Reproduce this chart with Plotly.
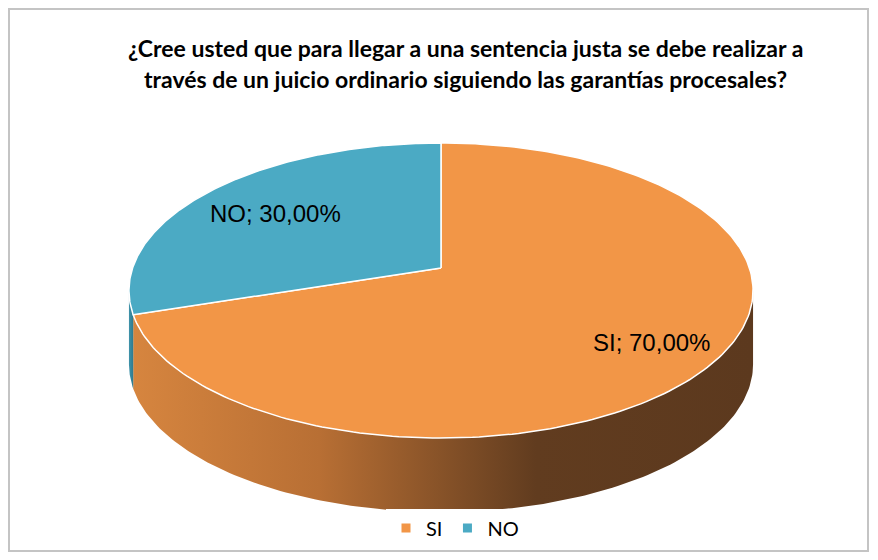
import numpy as np
import plotly.graph_objects as go

categories = ["SI", "NO"]
values = [70.0, 30.0]
colors = ["#F29647", "#4BAAC4"]
side_scales = [
    [[0, "#d6853f"], [0.3, "#b86f34"], [0.65, "#613c1f"], [1, "#5c391e"]],
    [[0, "#3f93aa"], [1, "#2f7a8e"]],
]
title_lines = [
    "¿Cree usted que para llegar a una sentencia justa se debe realizar a",
    "través de un juicio ordinario siguiendo las garantías procesales?",
]

# perspective geometry (pixels of the reference picture)
CX, CY = 441, 268          # projected pie centre
K = 0.1525                 # perspective strength
A, B = 308.4, 144.1        # horizontal / vertical scale
DEPTH = 74                 # side height
OFF = 8                    # page body margin offset

def proj(t_deg, dy=0.0):
    t = np.radians(t_deg)
    X, Z = np.cos(t), np.sin(t)
    w = 1 + K * Z
    return CX + A * X / w, CY - B * Z / w + dy

fig = go.Figure()
total = sum(values)
start = 90.0
slices = []
for cat, v, col, sc in zip(categories, values, colors, side_scales):
    span = 360.0 * v / total
    a0, a1 = start, start - span  # clockwise
    slices.append((cat, v, col, sc, a0, a1))
    start = a1

# visible side range (silhouette angles)
s = np.degrees(np.arcsin(K))
vis_hi, vis_lo = -s, -180 + s

for cat, v, col, sc, a0, a1 in slices:
    for shift in (0, -360, 360):
        h, l = a0 + shift, a1 + shift
        vh, vl = min(h, vis_hi), max(l, vis_lo)
        if vh > vl:
            ts = np.linspace(vh, vl, 150)
            xt, yt = proj(ts)
            xb, yb = proj(ts[::-1], DEPTH)
            fig.add_trace(go.Scatter(
                x=np.concatenate([xt, xb]), y=np.concatenate([yt, yb]),
                fill="toself", mode="lines", line=dict(width=0),
                fillgradient=dict(type="horizontal", colorscale=sc),
                hoverinfo="skip", showlegend=False))

# top faces
for cat, v, col, sc, a0, a1 in slices:
    ts = np.linspace(a0, a1, 240)
    xe, ye = proj(ts)
    fig.add_trace(go.Scatter(
        x=np.concatenate([[CX], xe, [CX]]), y=np.concatenate([[CY], ye, [CY]]),
        fill="toself", mode="lines", fillcolor=col,
        line=dict(color="white", width=1.5), hoverinfo="skip", showlegend=False))

# legend entries
for cat, col in zip(categories, colors):
    fig.add_trace(go.Scatter(
        x=[None], y=[None], mode="markers", name=cat,
        marker=dict(symbol="square", size=9, color=col)))

# labels
label_pos = {"SI": (651, 342), "NO": (275, 213)}
for cat, v, col, sc, a0, a1 in slices:
    lx, ly = label_pos[cat]
    fig.add_annotation(x=lx, y=ly, text=f"{cat}; {v:.2f}%".replace(".", ","),
                       showarrow=False,
                       font=dict(family="Liberation Sans", size=24, color="#000"))

for i, line in enumerate(title_lines):
    fig.add_annotation(x=465, y=48 + 31 * i, text=f"<b>{line}</b>", showarrow=False,
                       font=dict(family="Lato", size=23, color="#000"))

fig.add_shape(type="rect", x0=9, y0=9, x1=868, y1=551,
              line=dict(color="#c4c4c4", width=2), layer="below")

fig.update_layout(
    width=878, height=560, margin=dict(l=0, r=0, t=0, b=0),
    paper_bgcolor="white", plot_bgcolor="white",
    xaxis=dict(range=[OFF, 878 + OFF], visible=False, fixedrange=True),
    yaxis=dict(range=[560 + OFF, OFF], visible=False, fixedrange=True),
    legend=dict(orientation="h", x=(455 - OFF) / 878, xanchor="center",
                y=1 - (528 - OFF) / 560, yanchor="middle",
                font=dict(family="Lato", size=20, color="#000"), itemwidth=30),
)
fig.write_html("out.html")
